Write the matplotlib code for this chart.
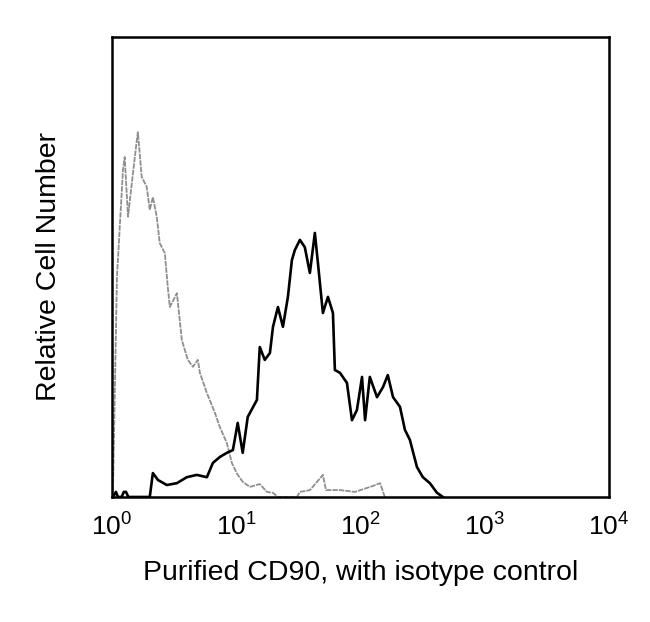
import matplotlib
matplotlib.use("Agg")
import matplotlib.pyplot as plt
import numpy as np

plt.rcParams["font.family"] = ["Liberation Sans", "DejaVu Sans"]

# isotype control (grey)
iso_x = [1.02, 1.10, 1.23, 1.27, 1.35, 1.45, 1.59, 1.62, 1.74, 1.91, 2.02, 2.14,
         2.30, 2.43, 2.67, 2.82, 2.93, 3.34, 3.66, 4.09, 4.49, 4.92, 5.11, 5.82,
         6.75, 7.40, 8.43, 9.24, 10.1, 11.3, 12.9, 15.5, 17.7, 19.8, 21.7, 30.8,
         32.6, 39.3, 49.9, 52.8, 68.4, 90.3, 126, 144, 157]
iso_y = [0, 47.8, 71.1, 73.9, 60.9, 68.3, 77.6, 79.3, 69.6, 67.4, 62.4, 65.2,
         60.9, 55.2, 53.0, 45.7, 41.3, 44.3, 34.1, 29.8, 28.3, 29.8, 27.0, 22.6,
         18.3, 15.2, 11.7, 7.4, 5.2, 3.3, 2.2, 2.8, 1.1, 0.9, 0, 0,
         1.1, 1.5, 4.8, 1.5, 1.5, 1.1, 2.4, 3.0, 0]

# purified CD90 (black)
cd90_x = [1.02, 1.08, 1.12, 1.20, 1.25, 1.30, 1.36, 1.45, 1.55, 2.02, 2.14, 2.35,
          2.77, 3.34, 4.01, 4.83, 5.82, 6.50, 7.40, 8.43, 9.42, 10.3, 11.3, 12.4,
          14.7, 15.5, 17.0, 18.7, 19.8, 21.7, 23.8, 26.1, 28.1, 29.7, 32.6, 35.7,
          39.2, 43.0, 45.5, 49.9, 54.8, 60.1, 62.3, 68.4, 77.9, 85.5, 93.7, 103,
          109, 119, 136, 152, 166, 183, 208, 228, 250, 285, 318, 362, 413, 461]
cd90_y = [0, 1.1, 0, 0, 1.1, 1.1, 0, 0, 0, 0, 5.2, 3.7,
          2.6, 3.0, 4.3, 4.8, 4.3, 7.4, 8.7, 9.6, 10.2, 16.1, 9.6, 17.4,
          21.1, 32.6, 29.8, 31.3, 37.0, 41.3, 37.0, 43.5, 51.5, 53.7, 55.9, 54.3,
          48.7, 57.4, 50.9, 40.0, 43.5, 40.0, 27.6, 27.0, 24.8, 16.7, 18.9, 26.1,
          16.7, 26.1, 21.7, 23.9, 26.5, 21.7, 19.6, 14.6, 12.4, 6.5, 4.3, 3.0, 0.9, 0]

fig = plt.figure(figsize=(6.5, 6.22), dpi=100)
ax = fig.add_axes([0.172, 0.201, 0.765, 0.7395])

ax.plot(iso_x, iso_y, color="#8f8f8f", lw=1.3, ls=(0, (3, 0.6)))
ax.plot(cd90_x, cd90_y, color="black", lw=1.9)

ax.set_xscale("log")
ax.set_xlim(1, 1e4)
ax.set_ylim(0, 100)
ax.set_yticks([])
ax.minorticks_off()
ax.set_xticks([1, 10, 100, 1000, 10000])
ax.tick_params(axis="x", length=0, pad=12, labelsize=19)

for s in ax.spines.values():
    s.set_linewidth(1.8)

ax.set_xlabel("Purified CD90, with isotype control", fontsize=20.5, labelpad=14)
ax.set_ylabel("Relative Cell Number", fontsize=20.5, labelpad=36)

fig.savefig("out.png", dpi=100)
